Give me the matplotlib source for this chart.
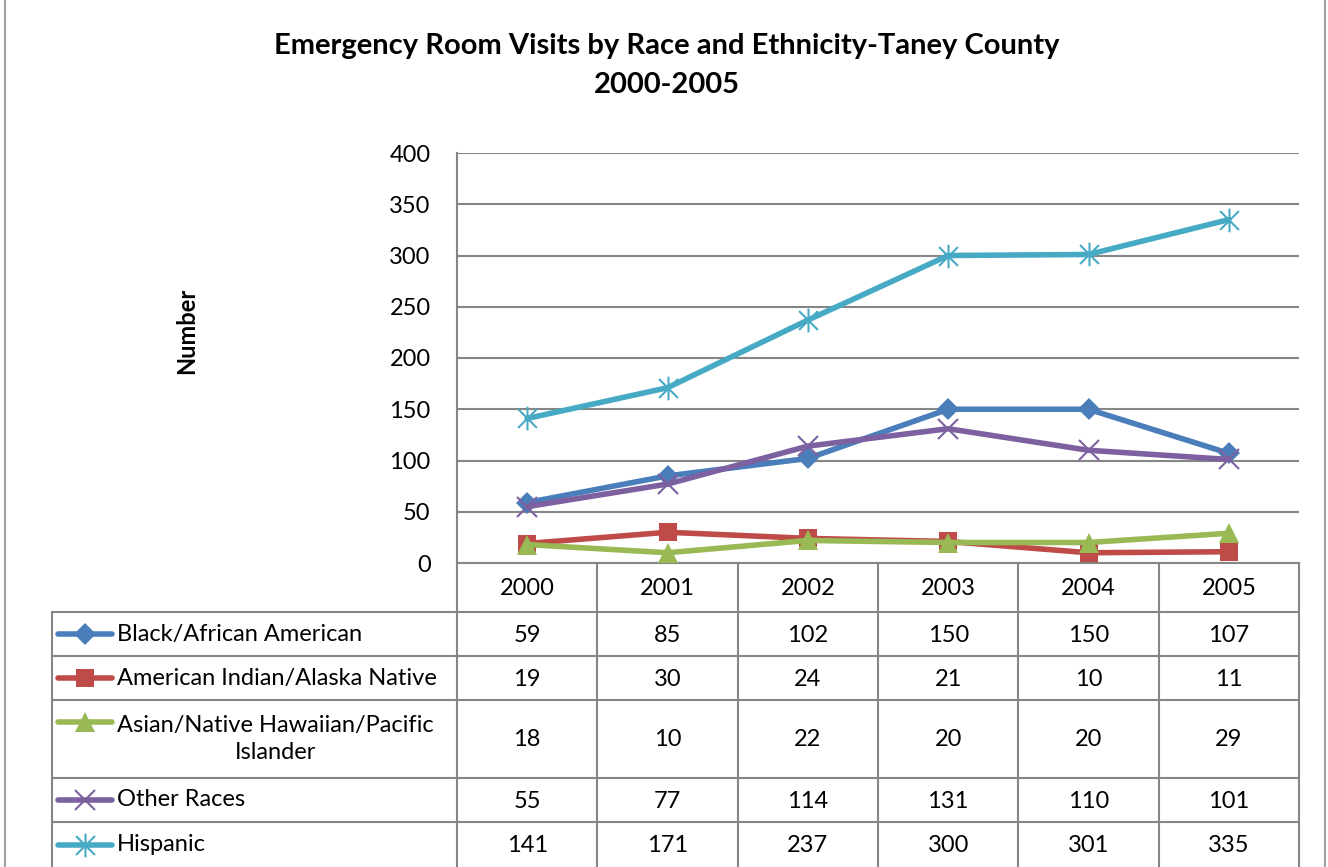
import matplotlib
matplotlib.use("Agg")
import matplotlib.pyplot as plt
from matplotlib.path import Path
from matplotlib.lines import Line2D

plt.rcParams['font.family'] = ['Lato', 'DejaVu Sans']

years = ["2000", "2001", "2002", "2003", "2004", "2005"]
series_names = ["Black/African American", "American Indian/Alaska Native",
                "Asian/Native Hawaiian/Pacific\nIslander", "Other Races", "Hispanic"]
black = [59, 85, 102, 150, 150, 107]
amind = [19, 30, 24, 21, 10, 11]
asian = [18, 10, 22, 20, 20, 29]
other = [55, 77, 114, 131, 110, 101]
hispanic = [141, 171, 237, 300, 301, 335]
yticks = [0, 50, 100, 150, 200, 250, 300, 350, 400]

all_values = [black, amind, asian, other, hispanic]
colors = ["#4A7EBB", "#BE4B48", "#98B954", "#7D60A0", "#46AAC5"]

star = Path([(-1, -1), (1, 1), (-1, 1), (1, -1), (0, -1.25), (0, 1.25)],
            [Path.MOVETO, Path.LINETO, Path.MOVETO, Path.LINETO, Path.MOVETO, Path.LINETO])
styles = [dict(marker='D', markersize=11, mew=0),
          dict(marker='s', markersize=13.5, mew=0),
          dict(marker='^', markersize=14, mew=0),
          dict(marker='x', markersize=14, mew=1.5),
          dict(marker=star, markersize=17, mew=1.5)]

FS = 17
W, H = 1328, 867
fig = plt.figure(figsize=(W / 100, H / 100), dpi=100)

# plot area in pixels
L, R, T, B = 457, 1299, 153, 563
ax = fig.add_axes([L / W, 1 - B / H, (R - L) / W, (B - T) / H])
x = list(range(len(years)))
for vals, c, st in zip(all_values, colors, styles):
    ax.plot(x, vals, color=c, lw=4, markerfacecolor=c, markeredgecolor=c,
            solid_joinstyle='round', solid_capstyle='round', zorder=3, clip_on=False, **st)
ax.set_xlim(-0.5, len(years) - 0.5)
ax.set_ylim(0, 400)
ax.set_yticks(yticks)
ax.set_yticklabels([str(v) for v in yticks], fontsize=FS)
ax.tick_params(axis='y', length=0, pad=19)
ax.set_xticks([])
ax.grid(axis='y', color='#868686', lw=1.5)
ax.set_axisbelow(True)
for s in ['top', 'right', 'bottom']:
    ax.spines[s].set_visible(False)
ax.spines['left'].set_color('#868686')
ax.spines['left'].set_linewidth(1.5)
ax.set_facecolor('none')

# overlay in pixel coordinates
ov = fig.add_axes([0, 0, 1, 1], zorder=-1)
ov.set_xlim(0, W)
ov.set_ylim(H, 0)
ov.axis('off')

# outer border
ov.plot([5, 5], [0, H], color='#A0A0A0', lw=1.5)
ov.plot([1325, 1325], [0, H], color='#A0A0A0', lw=1.5)

fig.text(667 / W, 1 - 46 / H, "Emergency Room Visits by Race and Ethnicity-Taney County",
         ha='center', va='center', fontsize=21, fontweight='bold')
fig.text(667 / W, 1 - 85 / H, "2000-2005", ha='center', va='center', fontsize=21, fontweight='bold')
fig.text(187 / W, 1 - 331 / H, "Number", rotation=90, ha='center', va='center',
         fontsize=FS, fontweight='bold')

# table
gc = '#868686'
col_w = (R - L) / len(years)
col_x = [L + i * col_w for i in range(len(years) + 1)]
row_y = [563, 612, 656, 700, 778, 822, 867]
tl = 52
ov.plot([L, R], [row_y[0], row_y[0]], color=gc, lw=1.5)
for cx in col_x:
    ov.plot([cx, cx], [row_y[0], H], color=gc, lw=1.5)
ov.plot([tl, tl], [row_y[1], H], color=gc, lw=1.5)
for ry in row_y[1:-1]:
    ov.plot([tl, R], [ry, ry], color=gc, lw=1.5)
for i, yr in enumerate(years):
    ov.text((col_x[i] + col_x[i + 1]) / 2, (row_y[0] + row_y[1]) / 2 + 1, yr,
            ha='center', va='center', fontsize=FS)
for r, (name, vals, c, st) in enumerate(zip(series_names, all_values, colors, styles)):
    y0, y1 = row_y[r + 1], row_y[r + 2]
    ym = (y0 + y1) / 2
    ly = ym if '\n' not in name else y0 + 22
    ov.add_line(Line2D([58, 85, 112], [ly, ly, ly], color=c, lw=4, solid_capstyle='round',
                       markevery=[1], markerfacecolor=c, markeredgecolor=c, **st))
    ov.text(117, ym, name, ha='left', va='center', fontsize=FS,
            multialignment='center', linespacing=1.3)
    for i, v in enumerate(vals):
        ov.text((col_x[i] + col_x[i + 1]) / 2, ym + 1, str(v), ha='center', va='center', fontsize=FS)

fig.savefig("out.png", dpi=100)
